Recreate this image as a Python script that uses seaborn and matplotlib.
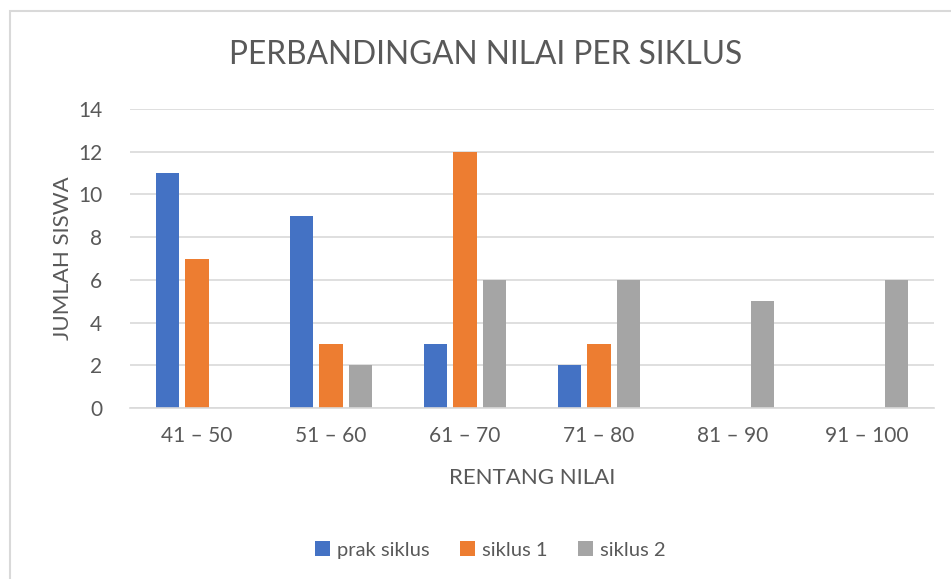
import matplotlib
matplotlib.use("Agg")
import matplotlib.pyplot as plt
import seaborn as sns
import pandas as pd
from matplotlib.patches import Rectangle, Patch

categories = ["41 – 50", "51 – 60", "61 – 70", "71 – 80", "81 – 90", "91 – 100"]
prak_siklus = [11, 9, 3, 2, 0, 0]
siklus_1 = [7, 3, 12, 3, 0, 0]
siklus_2 = [0, 2, 6, 6, 5, 6]
series_names = ["prak siklus", "siklus 1", "siklus 2"]
colors = ["#4472C4", "#ED7D31", "#A5A5A5"]

rows = []
for name, vals in zip(series_names, [prak_siklus, siklus_1, siklus_2]):
    for c, v in zip(categories, vals):
        rows.append({"rentang": c, "seri": name, "jumlah": v})
df = pd.DataFrame(rows)

sns.set_theme(style="white")
plt.rcParams["font.family"] = ["Lato", "DejaVu Sans"]
text_color = "#595959"
grid_color = "#D9D9D9"

W, H = 951, 579
fig = plt.figure(figsize=(W / 100, H / 100), dpi=100)
fig.patch.set_facecolor("white")
ax = fig.add_axes([130 / W, (H - 408) / H, (934 - 130) / W, (408 - 109) / H])

sns.barplot(data=df, x="rentang", y="jumlah", hue="seri", order=categories,
            hue_order=series_names, palette=colors, width=0.66, gap=0.2,
            linewidth=0, saturation=1, ax=ax, legend=False, errorbar=None)

ax.set_ylim(0, 14)
ax.set_yticks(range(0, 15, 2))
ax.set_xlim(-0.5, len(categories) - 0.5)
ax.grid(axis="y", color=grid_color, linewidth=1.2)
ax.set_axisbelow(True)
for s in ["top", "right", "left"]:
    ax.spines[s].set_visible(False)
ax.spines["bottom"].set_color(grid_color)
ax.spines["bottom"].set_linewidth(1.2)
ax.tick_params(axis="both", length=0, labelsize=15, colors=text_color)
ax.tick_params(axis="y", pad=20)
ax.tick_params(axis="x", pad=13)

ax.set_xlabel("RENTANG NILAI", fontsize=16, color=text_color)
ax.set_ylabel("JUMLAH SISWA", fontsize=16, color=text_color)
ax.yaxis.set_label_coords((73 - 130) / 804, 0.5)
ax.xaxis.set_label_coords(0.5, (408 - 468) / 299)

fig.text(486 / W, 1 - 55 / H, "PERBANDINGAN NILAI PER SIKLUS", ha="center",
         va="center", fontsize=22.8, color=text_color)

handles = [Patch(facecolor=c, edgecolor="none") for c in colors]
fig.legend(handles, series_names, loc="center", bbox_to_anchor=(490 / W, 1 - 550 / H),
           ncol=3, frameon=False, fontsize=14.5, handlelength=0.75, handleheight=0.75,
           handletextpad=0.35, columnspacing=1.5, labelcolor=text_color)

fig.patches.append(Rectangle((9.5 / W, -0.2), 1.2, 1.2 - 11 / H, transform=fig.transFigure,
                             fill=False, edgecolor=grid_color, linewidth=1.5, clip_on=False))

fig.savefig("out.png", dpi=100, facecolor="white")
